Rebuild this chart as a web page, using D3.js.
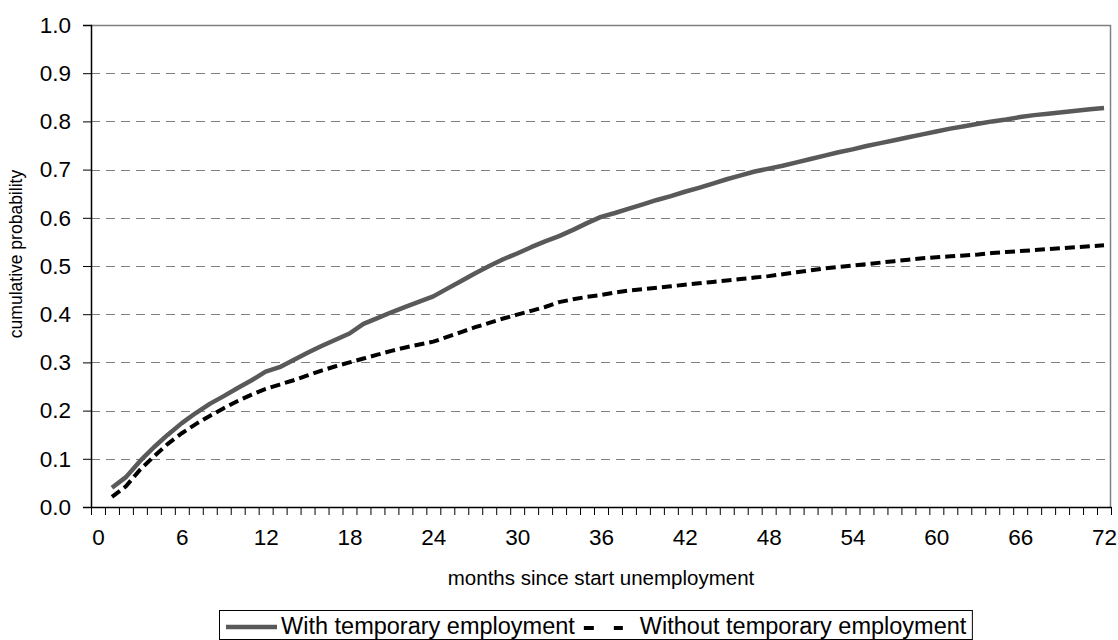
<!DOCTYPE html>
<html>
<head>
<meta charset="utf-8">
<script src="https://cdn.jsdelivr.net/npm/d3@7"></script>
<style>
  html, body { margin: 0; padding: 0; background: #fff; }
  svg { display: block; }
  text { font-family: "Liberation Sans", Arial, sans-serif; fill: #000; }
</style>
</head>
<body>
<svg id="chart" width="1118" height="640"></svg>
<script>
// ---- data ----
const months = d3.range(1, 73);
const withTemp = [
  0.040, 0.062, 0.095, 0.124, 0.150, 0.174, 0.195, 0.214, 0.230, 0.247, 0.263, 0.281,
  0.290, 0.305, 0.320, 0.334, 0.347, 0.360, 0.380, 0.392, 0.404, 0.415, 0.426, 0.437,
  0.453, 0.469, 0.485, 0.500, 0.514, 0.526, 0.539, 0.551, 0.562, 0.575, 0.589, 0.602,
  0.610, 0.619, 0.628, 0.637, 0.645, 0.654, 0.662, 0.671, 0.680, 0.688, 0.696, 0.702,
  0.708, 0.715, 0.722, 0.729, 0.736, 0.742, 0.749, 0.755, 0.761, 0.767, 0.773, 0.779,
  0.785, 0.790, 0.795, 0.800, 0.804, 0.809, 0.813, 0.816, 0.819, 0.822, 0.825, 0.828
];
const withoutTemp = [
  0.021, 0.043, 0.077, 0.105, 0.131, 0.153, 0.172, 0.189, 0.205, 0.220, 0.233, 0.245,
  0.254, 0.263, 0.273, 0.283, 0.292, 0.300, 0.308, 0.316, 0.324, 0.331, 0.337, 0.343,
  0.353, 0.363, 0.373, 0.382, 0.391, 0.399, 0.407, 0.415, 0.425, 0.431, 0.436, 0.440,
  0.445, 0.449, 0.452, 0.455, 0.458, 0.461, 0.464, 0.467, 0.470, 0.473, 0.476, 0.479,
  0.483, 0.487, 0.491, 0.495, 0.498, 0.501, 0.504, 0.507, 0.510, 0.513, 0.516, 0.518,
  0.520, 0.522, 0.524, 0.527, 0.529, 0.531, 0.533, 0.535, 0.537, 0.539, 0.541, 0.543
];
const xTickLabels = [0, 6, 12, 18, 24, 30, 36, 42, 48, 54, 60, 66, 72];
const yTicks = [0, 0.1, 0.2, 0.3, 0.4, 0.5, 0.6, 0.7, 0.8, 0.9, 1.0];
const seriesNames = ["With temporary employment", "Without temporary employment"];
const xTitle = "months since start unemployment";
const yTitle = "cumulative probability";

// ---- layout ----
const L = 91, R = 1111, T = 25, B = 507;
const svg = d3.select("#chart");
const x = d3.scaleLinear().domain([-0.5, 72.5]).range([L, R]);
const y = d3.scaleLinear().domain([0, 1]).range([B, T]);

// gridlines
svg.append("g").selectAll("line")
  .data(yTicks.filter(v => v > 0 && v < 1))
  .join("line")
  .attr("x1", L).attr("x2", R)
  .attr("y1", d => Math.round(y(d)) + 0.5).attr("y2", d => Math.round(y(d)) + 0.5)
  .attr("stroke", "#808080").attr("stroke-width", 1)
  .attr("stroke-dasharray", "9,6");

// plot border top/right (gray)
svg.append("path")
  .attr("d", `M${L},${Math.round(T)+0.5}H${R-0.5}V${B}`)
  .attr("fill", "none").attr("stroke", "#808080").attr("stroke-width", 1.5);

// y axis
const yAxis = d3.axisLeft(y).tickValues(yTicks).tickFormat(d3.format(".1f"))
  .tickSize(8).tickPadding(12);
const gy = svg.append("g").attr("transform", `translate(${L},0)`).call(yAxis);
gy.select(".domain").attr("stroke", "#000").attr("stroke-width", 1.5);
gy.selectAll(".tick line").attr("stroke", "#000").attr("stroke-width", 1);
gy.selectAll(".tick text").style("font-size", "22.5px").style("font-family", "'Liberation Sans', Arial, sans-serif").attr("fill", "#000");

// x axis: minor ticks at category boundaries
const boundaries = d3.range(0, 74).map(i => i - 0.5);
const xAxisTicks = d3.axisBottom(x).tickValues(boundaries).tickFormat("").tickSize(8).tickSizeOuter(0);
const gx = svg.append("g").attr("transform", `translate(0,${B})`).call(xAxisTicks);
gx.select(".domain").attr("stroke", "#000").attr("stroke-width", 1.5);
gx.selectAll(".tick line").attr("stroke", "#000").attr("stroke-width", 1);

// x labels at category centers
const xAxisLabels = d3.axisBottom(x).tickValues(xTickLabels).tickFormat(d3.format("d")).tickSize(0).tickPadding(22);
const gxl = svg.append("g").attr("transform", `translate(0,${B})`).call(xAxisLabels);
gxl.select(".domain").remove();
gxl.selectAll(".tick text").style("font-size", "22.5px").style("font-family", "'Liberation Sans', Arial, sans-serif").attr("fill", "#000");

// lines
const line = d3.line().x((d, i) => x(months[i])).y(d => y(d));
svg.append("path").datum(withoutTemp)
  .attr("d", line).attr("fill", "none")
  .attr("stroke", "#000").attr("stroke-width", 4)
  .attr("stroke-dasharray", "10,5");
svg.append("path").datum(withTemp)
  .attr("d", line).attr("fill", "none")
  .attr("stroke", "#595959").attr("stroke-width", 4.5)
  .attr("stroke-linejoin", "round");

// titles
svg.append("text").attr("x", (L + R) / 2).attr("y", 585)
  .attr("text-anchor", "middle").style("font-size", "20.5px").text(xTitle);
svg.append("text").attr("transform", `translate(22,254) rotate(-90)`)
  .attr("text-anchor", "middle").style("font-size", "17.5px").text(yTitle);

// legend
const lg = svg.append("g");
const box = lg.append("rect").attr("x", 219.5).attr("y", 610.5).attr("height", 29)
  .attr("fill", "#fff").attr("stroke", "#000").attr("stroke-width", 1);
const ly = 627;
lg.append("line").attr("x1", 226).attr("x2", 277).attr("y1", ly).attr("y2", ly)
  .attr("stroke", "#595959").attr("stroke-width", 4.5);
const t1 = lg.append("text").attr("x", 281).attr("y", 634).style("font-size", "23.5px").text(seriesNames[0]);
const e1 = 281 + t1.node().getComputedTextLength();
lg.append("line").attr("x1", e1 + 9).attr("x2", e1 + 48).attr("y1", ly + 1).attr("y2", ly + 1)
  .attr("stroke", "#000").attr("stroke-width", 4).attr("stroke-dasharray", "10,20");
const t2 = lg.append("text").attr("x", e1 + 65).attr("y", 634).style("font-size", "23.5px").text(seriesNames[1]);
const e2 = e1 + 65 + t2.node().getComputedTextLength();
box.attr("width", e2 + 6 - 219.5);
</script>
</body>
</html>
